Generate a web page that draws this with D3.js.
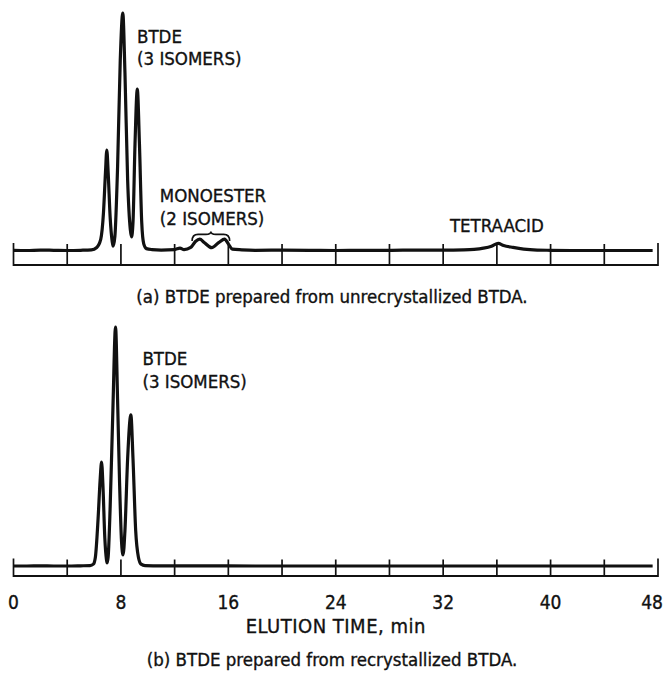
<!DOCTYPE html>
<html>
<head>
<meta charset="utf-8">
<script src="https://cdn.jsdelivr.net/npm/d3@7"></script>
<style>
  html, body { margin: 0; padding: 0; background: #fff; }
  svg { display: block; }
  text { font-family: "DejaVu Sans Condensed", "Liberation Sans Narrow", "DejaVu Sans", sans-serif; font-stretch: condensed; fill: #111; stroke: #111; stroke-width: 0.35px; }
</style>
</head>
<body>
<svg id="chart" width="664" height="677"></svg>
<script>
// Elution time axis (min)
const tickTimes = [0, 4, 8, 12, 16, 20, 24, 28, 32, 36, 40, 44, 48];
const tickLabels = [0, 8, 16, 24, 32, 40, 48];

// Detector response, percent of the tallest peak in each run: [time (min), response]
const traceUnrecrystallized = [
  [0, 0.3], [1, 0.2], [2, 0.4], [3, 0.3], [4, 0.2], [5, 0.3], [5.8, 0.5],
  [6.2, 1.5], [6.5, 5], [6.7, 16], [6.85, 33], [6.95, 42.4], [7.05, 33], [7.2, 14],
  [7.35, 4], [7.42, 2.0], [7.55, 6], [7.75, 35], [7.95, 80], [8.14, 100], [8.3, 75],
  [8.5, 30], [8.7, 9], [8.79, 5.9], [8.9, 12], [9.05, 45], [9.22, 68], [9.38, 45],
  [9.55, 12], [9.7, 3], [9.9, 1], [10.3, 0.6], [11, 0.4], [12, 0.6], [12.4, 1.2],
  [12.7, 0.6], [13.2, 1.5], [13.55, 4], [13.87, 5], [14.2, 3.6], [14.76, 1.4],
  [15.3, 3.6], [15.72, 5], [16.0, 3], [16.3, 0.8], [17, 0.5], [18, 0.3], [20, 0.4],
  [22, 0.3], [24, 0.2], [26, 0.3], [28, 0.3], [30, 0.4], [32, 0.4], [33.5, 0.5],
  [34.3, 0.7], [35.0, 1.2], [35.6, 2.0], [36.1, 3.2], [36.5, 2.3], [37.2, 1.5],
  [38, 0.8], [39, 0.4], [40, 0.3], [42, 0.2], [44, 0.2], [46, 0.2], [47.6, 0.2]
];

const traceRecrystallized = [
  [0, 0.2], [1, 0.2], [2, 0.3], [3, 0.2], [4, 0.2], [5, 0.3], [5.7, 0.4],
  [5.95, 1], [6.1, 4], [6.3, 20], [6.45, 36], [6.56, 43.6], [6.66, 34], [6.8, 12],
  [6.92, 3], [6.97, 1.5], [7.05, 4], [7.2, 25], [7.4, 65], [7.6, 100], [7.75, 70],
  [7.9, 35], [8.05, 10], [8.16, 4.8], [8.3, 15], [8.5, 45], [8.74, 63.3], [8.9, 45],
  [9.1, 15], [9.3, 4], [9.5, 1], [9.8, 0.4], [11, 0.3], [14, 0.3], [18, 0.2],
  [24, 0.2], [30, 0.2], [36, 0.2], [42, 0.2], [47.6, 0.2]
];

// Peak annotations
const labelsUnrecrystallized = [
  { lines: ["BTDE", "(3 ISOMERS)"], t: 9.2, r: 87.5 },
  { lines: ["MONOESTER", "(2 ISOMERS)"], t: 10.9, r: 20.5 },
  { lines: ["TETRAACID"], t: 32.5, r: 8 }
];
const labelsRecrystallized = [
  { lines: ["BTDE", "(3 ISOMERS)"], t: 9.6, r: 84 }
];
const monoesterSpan = [13.3, 16.1];

const captions = [
  "(a) BTDE prepared from unrecrystallized BTDA.",
  "(b) BTDE prepared from recrystallized BTDA."
];
const axisTitle = "ELUTION TIME, min";

const svg = d3.select("#chart");
const x = d3.scaleLinear().domain([0, 48]).range([13.5, 658]);

const panels = [
  { trace: traceUnrecrystallized, labels: labelsUnrecrystallized, base: 251, top: 13, axisY: 265, caption: captions[0], capY: 303 },
  { trace: traceRecrystallized, labels: labelsRecrystallized, base: 566.5, top: 327, axisY: 576, caption: captions[1], capY: 666 }
];

const line = d3.line().curve(d3.curveMonotoneX);

panels.forEach((p, i) => {
  const y = d3.scaleLinear().domain([0, 100]).range([p.base, p.top]);
  const g = svg.append("g");

  // Horizontal axis line
  g.append("line")
    .attr("x1", x(0)).attr("x2", x(48))
    .attr("y1", p.axisY).attr("y2", p.axisY)
    .attr("stroke", "#111").attr("stroke-width", 2);

  // Tick marks every 4 min, crossing the baseline
  g.selectAll("line.tick").data(tickTimes).join("line")
    .attr("class", "tick")
    .attr("x1", d => x(d)).attr("x2", d => x(d))
    .attr("y1", p.axisY + 1)
    .attr("y2", d => (d === 0 || d === 48) ? p.base - 8 : p.base - 7)
    .attr("stroke", "#111").attr("stroke-width", 1.7);

  // Chromatogram trace
  g.append("path")
    .datum(p.trace.map(d => [x(d[0]), y(d[1])]))
    .attr("d", line)
    .attr("fill", "none")
    .attr("stroke", "#111")
    .attr("stroke-width", 3.2)
    .attr("stroke-linejoin", "round");

  // Peak labels
  p.labels.forEach(l => {
    const t = g.append("text")
      .attr("x", x(l.t)).attr("y", y(l.r))
      .attr("font-size", 18.5);
    l.lines.forEach((s, k) => {
      t.append("tspan").attr("x", x(l.t)).attr("dy", k === 0 ? 0 : 22.5).text(s);
    });
  });

  // Brace grouping the two monoester isomers
  if (i === 0) {
    const x0 = x(monoesterSpan[0]), x1 = x(monoesterSpan[1]), xm = (x0 + x1) / 2;
    const yTip = y(4.2), yMid = y(7.0), yTop = y(8.2);
    g.append("path")
      .attr("d", `M${x0},${yTip} Q${x0},${yMid} ${x0 + 6},${yMid} L${xm - 5},${yMid} Q${xm},${yMid} ${xm},${yTop} Q${xm},${yMid} ${xm + 5},${yMid} L${x1 - 6},${yMid} Q${x1},${yMid} ${x1},${yTip}`)
      .attr("fill", "none").attr("stroke", "#111").attr("stroke-width", 1.6);
  }

  // Caption
  svg.append("text")
    .attr("x", 332).attr("y", p.capY)
    .attr("text-anchor", "middle")
    .attr("font-size", 18.5)
    .text(p.caption);

  // Time labels and title under the lower panel
  if (i === 1) {
    svg.selectAll("text.tl").data(tickLabels).join("text")
      .attr("class", "tl")
      .attr("x", d => x(d)).attr("y", p.axisY + 33)
      .attr("text-anchor", "middle")
      .attr("font-size", 19)
      .text(d => d)
      .each(function () {
        // keep the outermost labels inside the page
        const w = this.getComputedTextLength();
        const cx = +this.getAttribute("x");
        const shifted = Math.max(w / 2 + 1, Math.min(663 - w / 2, cx));
        this.setAttribute("x", shifted);
      });
    svg.append("text")
      .attr("x", x(24)).attr("y", p.axisY + 57)
      .attr("text-anchor", "middle")
      .attr("font-size", 20)
      .attr("letter-spacing", 0.5)
      .text(axisTitle);
  }
});
</script>
</body>
</html>
